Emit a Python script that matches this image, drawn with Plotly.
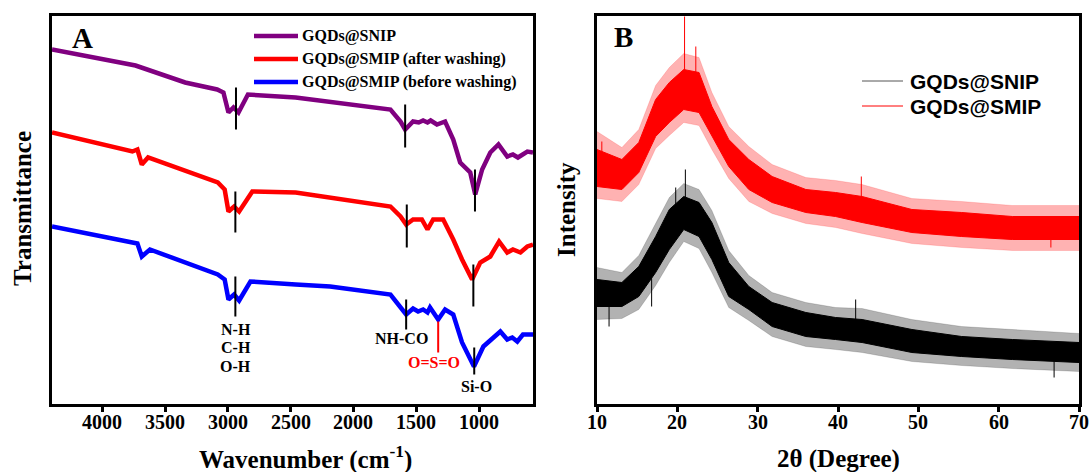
import plotly.graph_objects as go

W, H = 1089, 472

# ---------------- Panel A : FTIR ----------------
wn_snip = [4400, 3760, 3735, 3340, 3085, 3035, 2995, 2955, 2915, 2840, 2460, 1705, 1625, 1588, 1525, 1480, 1445, 1410,
           1385, 1335, 1270, 1205, 1150, 1070, 1030, 975, 910, 845, 775, 730, 690, 615, 570]
t_snip = [354, 339, 338, 321, 314, 311, 291, 296, 291, 309, 306, 294, 282, 274, 282, 281, 283, 281,
          283, 279, 282, 264, 241, 231, 209, 234, 251, 259, 247, 249, 246, 252, 251]

wn_after = [4400, 3760, 3720, 3685, 3635, 3080, 3025, 2995, 2950, 2910, 2805, 2460, 1705, 1625, 1580, 1525, 1455, 1410,
            1365, 1285, 1205, 1135, 1055, 990, 910, 840, 775, 730, 670, 615, 570]
t_after = [271, 252, 254, 239, 246, 221, 214, 192, 197, 192, 212, 211, 197, 187, 179, 184, 184, 174,
           184, 184, 164, 144, 124, 141, 147, 162, 151, 154, 151, 157, 159]

wn_before = [4400, 3760, 3720, 3685, 3620, 3080, 3025, 2995, 2950, 2910, 2820, 2460, 2185, 1705, 1580, 1525, 1485, 1445,
             1410, 1390, 1325, 1270, 1205, 1135, 1040, 965, 885, 830, 775, 735, 695, 650, 590, 570]
t_before = [177, 161, 160, 147, 154, 129, 124, 104, 109, 103, 122, 119, 117, 109, 89, 95, 92, 94,
            91, 96, 84, 94, 89, 61, 37, 57, 66, 72, 64, 66, 62, 69, 69, 69]

# band-assignment markers (black) and sulfonyl marker (red)
mark_wn = [2935, 1588, 1032, 2940, 1575, 1045, 2940, 1580, 1038]
mark_lo = [274, 256, 192, 171, 156, 97, 87, 74, 29]
mark_hi = [316, 299, 234, 212, 199, 139, 127, 104, 56]
so2_wn, so2_lo, so2_hi = 1325, 51, 82

lab_text = ["N-H", "C-H", "O-H", "NH-CO", "Si-O"]
lab_wn = [2935, 2935, 2935, 1620, 1020]
lab_t = [74, 56, 37, 65, 17]
so2_text, so2_lab_wn, so2_lab_t = "O=S=O", 1360, 41

wn_ticks = [4000, 3500, 3000, 2500, 2000, 1500, 1000]
deg_ticks = [10, 20, 30, 40, 50, 60, 70]

# ---------------- Panel B : XRD ----------------
theta = [10, 13.1, 15.2, 17.3, 19, 20.8, 22.7, 24.3, 26.4, 28.9, 31.8, 36, 39.7, 43, 49.2, 55.4, 61.7, 70]
# dense core of the noisy trace
snip_lo = [97, 97, 107, 131, 154, 174, 167, 144, 107, 94, 77, 67, 64, 61, 51, 47, 44, 41]
snip_hi = [124, 121, 137, 167, 194, 207, 201, 181, 141, 117, 101, 91, 86, 84, 74, 67, 64, 61]
smip_lo = [217, 214, 231, 267, 281, 294, 291, 267, 237, 214, 201, 191, 187, 181, 171, 167, 164, 164]
smip_hi = [254, 244, 261, 304, 321, 334, 331, 297, 264, 244, 227, 214, 211, 207, 194, 191, 187, 187]
# sparse outer fringe of the noise
snip_olo = [84, 85, 94, 118, 141, 162, 155, 131, 96, 83, 67, 57, 54, 51, 42, 38, 35, 32]
snip_ohi = [136, 131, 148, 180, 206, 220, 214, 193, 153, 128, 111, 101, 96, 95, 84, 77, 74, 70]
smip_olo = [205, 202, 219, 255, 268, 281, 278, 254, 225, 202, 190, 180, 176, 170, 160, 156, 153, 153]
smip_ohi = [272, 256, 274, 318, 336, 350, 346, 311, 277, 257, 239, 226, 223, 219, 205, 202, 198, 198]

# individual spikes: angle, base, tip
smip_sp_t = [20.9, 22.3, 10.6, 42.9, 66.5]
smip_sp_b = [330, 328, 250, 205, 166]
smip_sp_y = [387, 357, 262, 227, 156]
snip_sp_t = [21.0, 19.8, 16.8, 42.2, 66.9, 11.5]
snip_sp_b = [205, 190, 125, 82, 44, 99]
snip_sp_y = [234, 216, 97, 104, 26, 77]

PURPLE, RED, BLUE = "#800080", "#ff0000", "#0000ff"
SERIF = "Liberation Serif"
SANS = "Liberation Sans"

fig = go.Figure()

for xs, ys, c, nm in [(wn_snip, t_snip, PURPLE, "GQDs@SNIP"),
                      (wn_after, t_after, RED, "GQDs@SMIP (after washing)"),
                      (wn_before, t_before, BLUE, "GQDs@SMIP (before washing)")]:
    fig.add_trace(go.Scatter(x=xs, y=ys, mode="lines", line=dict(color=c, width=4.5),
                             name=nm, xaxis="x", yaxis="y", showlegend=False))

# XRD bands: faint fringe then dense core
for olo, ohi, lo, hi, c, fr in [(snip_olo, snip_ohi, snip_lo, snip_hi, "#000000", "rgba(0,0,0,0.3)"),
                                (smip_olo, smip_ohi, smip_lo, smip_hi, RED, "rgba(255,0,0,0.3)")]:
    fig.add_trace(go.Scatter(x=theta, y=olo, mode="lines", line=dict(color=fr, width=0.5),
                             xaxis="x2", yaxis="y2", showlegend=False))
    fig.add_trace(go.Scatter(x=theta, y=ohi, mode="lines", line=dict(color=fr, width=0.5),
                             fill="tonexty", fillcolor=fr, xaxis="x2", yaxis="y2", showlegend=False))
    fig.add_trace(go.Scatter(x=theta, y=lo, mode="lines", line=dict(color=c, width=1),
                             xaxis="x2", yaxis="y2", showlegend=False))
    fig.add_trace(go.Scatter(x=theta, y=hi, mode="lines", line=dict(color=c, width=1),
                             fill="tonexty", fillcolor=c, xaxis="x2", yaxis="y2", showlegend=False))

for ts, bs, ys, c in [(snip_sp_t, snip_sp_b, snip_sp_y, "#000000"), (smip_sp_t, smip_sp_b, smip_sp_y, RED)]:
    sx, sy = [], []
    for t, b, y in zip(ts, bs, ys):
        sx += [t, t, None]
        sy += [b, y, None]
    fig.add_trace(go.Scatter(x=sx, y=sy, mode="lines", line=dict(color=c, width=1),
                             xaxis="x2", yaxis="y2", showlegend=False))

shapes = []
for w, lo, hi in zip(mark_wn, mark_lo, mark_hi):
    shapes.append(dict(type="line", xref="x", yref="y", x0=w, x1=w, y0=lo, y1=hi,
                       line=dict(color="black", width=2)))
shapes.append(dict(type="line", xref="x", yref="y", x0=so2_wn, x1=so2_wn, y0=so2_lo, y1=so2_hi,
                   line=dict(color=RED, width=2)))

ann = []
for t, w, y in zip(lab_text, lab_wn, lab_t):
    ann.append(dict(x=w, y=y, xref="x", yref="y", text=t, showarrow=False,
                    xanchor="center", yanchor="middle",
                    font=dict(family=SERIF, size=16, color="black", weight="bold")))
ann.append(dict(x=so2_lab_wn, y=so2_lab_t, xref="x", yref="y", text=so2_text, showarrow=False,
                xanchor="center", yanchor="middle",
                font=dict(family=SERIF, size=16, color=RED, weight="bold")))


def px(x):
    return x / W


def py(y):
    return 1 - y / H


tickfont = dict(family=SERIF, size=20, color="black", weight="bold")
# tick labels placed on the axes' own tick values
for v in wn_ticks:
    ann.append(dict(x=v, y=py(422), xref="x", yref="paper", text=str(v), showarrow=False,
                    xanchor="center", yanchor="middle", font=tickfont))
for v in deg_ticks:
    ann.append(dict(x=v, y=py(422), xref="x2", yref="paper", text=str(v), showarrow=False,
                    xanchor="center", yanchor="middle", font=tickfont))

# legend A (manual)
legA = [("GQDs@SNIP", PURPLE, 36), ("GQDs@SMIP (after washing)", RED, 59), ("GQDs@SMIP (before washing)", BLUE, 82)]
for txt, c, yy in legA:
    shapes.append(dict(type="line", xref="paper", yref="paper", x0=px(254), x1=px(298), y0=py(yy), y1=py(yy),
                       line=dict(color=c, width=4.5)))
    ann.append(dict(x=px(300), y=py(yy), xref="paper", yref="paper", text=txt, showarrow=False,
                    xanchor="left", yanchor="middle",
                    font=dict(family=SERIF, size=16, color="black", weight="bold")))

legB = [("GQDs@SNIP", "#555555", 81), ("GQDs@SMIP", RED, 106)]
for txt, c, yy in legB:
    shapes.append(dict(type="line", xref="paper", yref="paper", x0=px(862), x1=px(903), y0=py(yy), y1=py(yy),
                       line=dict(color=c, width=1)))
    ann.append(dict(x=px(908), y=py(yy), xref="paper", yref="paper", text=txt, showarrow=False,
                    xanchor="left", yanchor="middle",
                    font=dict(family=SANS, size=21, color="black", weight="bold")))

# panel letters
ann.append(dict(x=px(82), y=py(38), xref="paper", yref="paper", text="A", showarrow=False,
                xanchor="center", yanchor="middle",
                font=dict(family=SERIF, size=29, color="black", weight="bold")))
ann.append(dict(x=px(623), y=py(37), xref="paper", yref="paper", text="B", showarrow=False,
                xanchor="center", yanchor="middle",
                font=dict(family=SERIF, size=29, color="black", weight="bold")))

# axis titles
ann.append(dict(x=px(305), y=py(457), xref="paper", yref="paper", text="Wavenumber (cm<sup>-1</sup>)",
                showarrow=False, xanchor="center", yanchor="middle",
                font=dict(family=SERIF, size=25, color="black", weight="bold")))
ann.append(dict(x=px(838), y=py(459), xref="paper", yref="paper", text="2θ (Degree)",
                showarrow=False, xanchor="center", yanchor="middle",
                font=dict(family=SERIF, size=25, color="black", weight="bold")))
ann.append(dict(x=px(22), y=py(209), xref="paper", yref="paper", text="Transmittance", textangle=-90,
                showarrow=False, xanchor="center", yanchor="middle",
                font=dict(family=SERIF, size=25, color="black", weight="bold")))
ann.append(dict(x=px(567), y=py(210), xref="paper", yref="paper", text="Intensity", textangle=-90,
                showarrow=False, xanchor="center", yanchor="middle",
                font=dict(family=SERIF, size=25, color="black", weight="bold")))

ydom = [1 - 403.5 / H, 1 - 15.5 / H]
axis_common = dict(showline=True, linewidth=3, linecolor="black", mirror=True, showgrid=False,
                   zeroline=False)

fig.update_layout(
    width=W, height=H, autosize=False,
    margin=dict(l=0, r=0, t=0, b=0),
    paper_bgcolor="white", plot_bgcolor="white",
    showlegend=False, hovermode=False,
    xaxis=dict(domain=[px(52), px(533)], range=[4400, 570], tickvals=wn_ticks, ticks="outside",
               ticklen=5, tickwidth=3, tickcolor="black", showticklabels=False,
               anchor="y", **axis_common),
    yaxis=dict(domain=ydom, range=[0, 388], showticklabels=False, ticks="", anchor="x", **axis_common),
    xaxis2=dict(domain=[px(597), px(1079)], range=[10, 70], tickvals=deg_ticks, ticks="outside",
                ticklen=5, tickwidth=3, tickcolor="black", showticklabels=False,
                anchor="y2", **axis_common),
    yaxis2=dict(domain=ydom, range=[0, 388], showticklabels=False, ticks="", anchor="x2", **axis_common),
    shapes=shapes,
    annotations=ann,
)

fig.write_html("out.html", config={"displayModeBar": False, "staticPlot": True},
               post_script="document.body.style.margin='0';document.body.style.overflow='hidden';")
